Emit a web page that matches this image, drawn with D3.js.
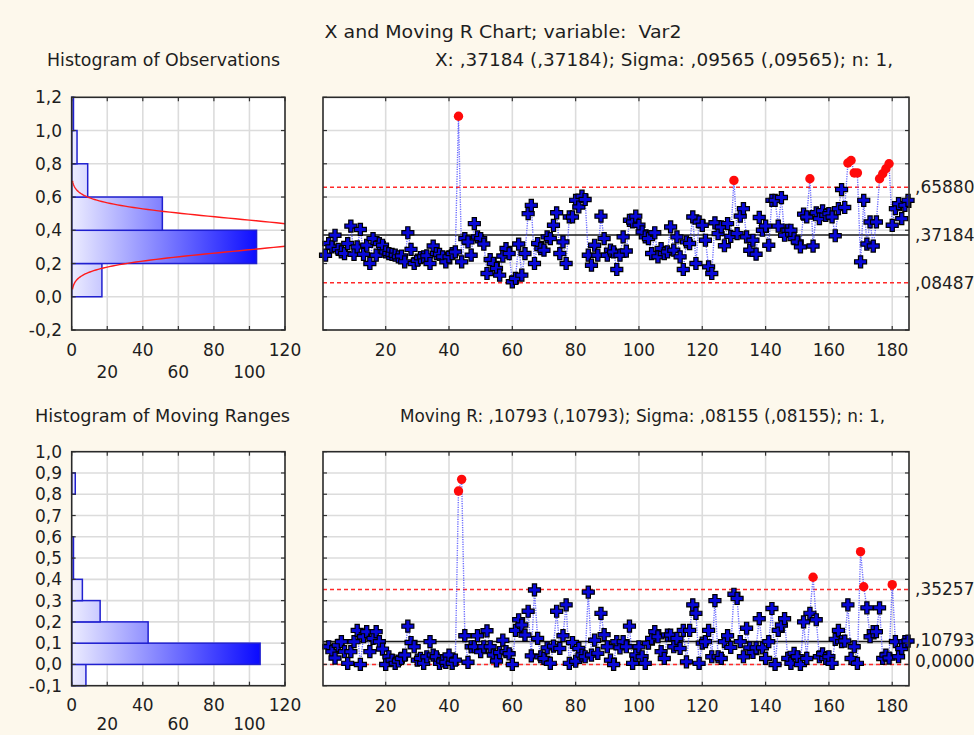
<!DOCTYPE html>
<html><head><meta charset="utf-8">
<script src="https://cdn.jsdelivr.net/npm/d3@7"></script>
<style>
body{margin:0;background:#fdf8ec;}
text{font-family:"DejaVu Sans","Liberation Sans",Arial,sans-serif;fill:#1e1e1e;}
</style>
</head><body>
<svg id="c" width="974" height="735"></svg>
<script>
// ---------------- DATA ----------------
const obsValues = [
0.25,0.32,0.30,0.37,0.285,0.27,0.26,0.32,0.425,0.255,
0.30,0.405,0.255,0.31,0.20,0.35,0.25,0.32,0.31,0.27,
0.26,0.255,0.25,0.24,0.245,0.21,0.385,0.285,0.20,0.22,
0.235,0.24,0.246,0.20,0.305,0.26,0.255,0.24,0.21,0.24,
0.26,0.27,1.086,0.21,0.35,0.33,0.25,0.44,0.36,0.35,
0.317,0.14,0.224,0.20,0.17,0.13,0.245,0.29,0.26,0.09,
0.11,0.317,0.13,0.26,0.50,0.55,0.20,0.32,0.29,0.28,
0.36,0.35,0.43,0.505,0.26,0.33,0.20,0.48,0.48,0.58,
0.54,0.605,0.585,0.25,0.19,0.31,0.25,0.485,0.35,0.25,
0.28,0.27,0.164,0.25,0.36,0.275,0.46,0.45,0.485,0.43,
0.39,0.36,0.35,0.26,0.385,0.24,0.29,0.26,0.27,0.42,
0.28,0.36,0.24,0.164,0.33,0.32,0.48,0.20,0.45,0.43,
0.34,0.18,0.14,0.445,0.38,0.42,0.307,0.44,0.363,0.70,
0.38,0.485,0.53,0.36,0.28,0.34,0.256,0.477,0.40,0.425,
0.31,0.58,0.58,0.425,0.597,0.37,0.40,0.40,0.35,0.33,
0.30,0.497,0.48,0.71,0.305,0.505,0.47,0.517,0.49,0.50,
0.48,0.367,0.53,0.645,0.537,0.805,0.82,0.745,0.745,0.21,
0.58,0.317,0.45,0.305,0.45,0.71,0.74,0.77,0.80,0.43,
0.53,0.56,0.47,0.55,0.58
];
const obsStart = 1;

const mrValues = [
0.083,0.06,0.03,0.09,0.107,0.06,0.005,0.06,0.107,               // 2-10
0.16,0.0,0.13,0.154,0.06,0.122,0.154,0.107,0.072,0.0,            // 11-20
0.036,0.02,0.005,0.016,0.028,0.044,0.18,0.103,0.083,0.02,        // 21-30
0.028,0.005,0.036,0.107,0.044,0.036,0.005,0.016,0.01,0.044,      // 31-40
0.005,0.02,0.815,0.87,0.135,0.01,0.083,0.083,0.135,0.06,         // 41-50
0.083,0.158,0.083,0.044,0.016,0.056,0.114,0.06,0.05,0.0,         // 51-60
0.16,0.21,0.185,0.138,0.25,0.04,0.35,0.122,0.036,0.028,          // 61-70
0.078,0.005,0.086,0.25,0.075,0.135,0.28,0.005,0.103,0.015,       // 71-80
0.075,0.044,0.036,0.34,0.044,0.114,0.052,0.24,0.14,0.083,        // 81-90
0.02,0.0,0.107,0.078,0.107,0.083,0.18,0.005,0.044,0.083,         // 91-100
0.036,0.005,0.1,0.122,0.154,0.13,0.06,0.028,0.138,0.138,         // 101-110
0.083,0.122,0.075,0.16,0.012,0.16,0.28,0.24,0.005,0.1,           // 111-120
0.107,0.16,0.036,0.30,0.036,0.028,0.107,0.135,0.08,0.33,         // 121-130
0.31,0.107,0.036,0.17,0.078,0.056,0.078,0.215,0.078,0.028,       // 131-140
0.107,0.263,0.0,0.16,0.185,0.215,0.028,0.005,0.052,0.036,        // 141-150
0.0,0.2,0.028,0.24,0.41,0.21,0.036,0.05,0.028,0.036,             // 151-160
0.005,0.118,0.16,0.107,0.11,0.28,0.028,0.083,0.005,0.53,         // 161-170
0.365,0.266,0.13,0.154,0.154,0.266,0.028,0.044,0.03,0.375,       // 171-180
0.107,0.036,0.075,0.107,0.11                                     // 181-185
];
const mrStart = 2;

// control limits (from the chart labels)
const obsLimits = {center:0.37184, ucl:0.65880, lcl:0.08487};
const mrLimits  = {center:0.10793, ucl:0.35257, lcl:0.0};
const obsSigma = 0.09565;
const obsLimitLabels = [",65880", ",37184", ",08487"];
const mrLimitLabels  = [",35257", ",10793", "0,0000"];

// histogram counts
const obsBinStarts = [0.0, 0.2, 0.4, 0.6, 0.8, 1.0];
const obsBinCounts = [17, 104, 51, 9, 3, 1];
const obsBinWidth = 0.2;
const mrBinStarts = [-0.1, 0.0, 0.1, 0.2, 0.3, 0.4, 0.5, 0.6, 0.7, 0.8];
const mrBinCounts = [8, 106, 43, 16, 6, 1, 1, 0, 0, 2];
const mrBinWidth = 0.1;

// ticks
const obsYTicks = [-0.2, 0.0, 0.2, 0.4, 0.6, 0.8, 1.0, 1.2];
const mrYTicks  = [-0.1, 0.0, 0.1, 0.2, 0.3, 0.4, 0.5, 0.6, 0.7, 0.8, 0.9, 1.0];
const histXTicks = [0, 20, 40, 60, 80, 100, 120];
const mainXTicks = [20, 40, 60, 80, 100, 120, 140, 160, 180];

const titles = {
  main: "X and Moving R Chart; variable:\u00a0 Var2",
  obsHist: "Histogram of Observations",
  obsInfo: "X: ,37184 (,37184); Sigma: ,09565 (,09565); n: 1,",
  mrHist: "Histogram of Moving Ranges",
  mrInfo: "Moving R: ,10793 (,10793); Sigma: ,08155 (,08155); n: 1,"
};

// ---------------- DRAW ----------------
const svg = d3.select("#c");
const loc = d3.formatLocale({decimal:",", thousands:".", grouping:[3], currency:["",""], minus:"-"});
const fmt1 = loc.format(".1f");

const yTop = d3.scaleLinear().domain([-0.2, 1.2]).range([330, 97.3]);
const yBot = d3.scaleLinear().domain([-0.1, 1.0]).range([685.7, 451.7]);
const xHist = d3.scaleLinear().domain([0, 120]).range([71.7, 285]);
const xMain = d3.scaleLinear().domain([0.2, 185.3]).range([323, 909]);

const defs = svg.append("defs");
const grad = defs.append("linearGradient").attr("id","barGrad")
  .attr("gradientUnits","userSpaceOnUse")
  .attr("x1", xHist(0)).attr("x2", xHist(106)).attr("y1",0).attr("y2",0);
grad.append("stop").attr("offset","0").attr("stop-color","#ececff");
grad.append("stop").attr("offset","1").attr("stop-color","#0a0aff");

svg.append("rect").attr("width",974).attr("height",735).attr("fill","#fdf8ec");

// Titles (widths fitted to the reference)
function title(x, y, txt, len) {
  svg.append("text").attr("x",x).attr("y",y).attr("text-anchor","middle").attr("font-size",17)
    .attr("textLength",len).attr("lengthAdjust","spacingAndGlyphs").text(txt);
}
title(503, 38, titles.main, 357);
title(163.5, 66, titles.obsHist, 233);
title(664, 66, titles.obsInfo, 458);
title(162.5, 422, titles.mrHist, 255);
title(642.5, 422, titles.mrInfo, 485);

function frameAndGrid(g, x, y, gridX, gridY) {
  const [x0, x1] = x.range(), [y0, y1] = y.range();
  g.append("rect").attr("x",x0).attr("y",y1).attr("width",x1-x0).attr("height",y0-y1).attr("fill","#fff");
  g.selectAll(".gx").data(gridX).join("line")
    .attr("x1",d=>x(d)).attr("x2",d=>x(d)).attr("y1",y1).attr("y2",y0)
    .attr("stroke","#dcdcdc").attr("stroke-width",1.6);
  g.selectAll(".gy").data(gridY).join("line")
    .attr("x1",x0).attr("x2",x1).attr("y1",d=>y(d)).attr("y2",d=>y(d))
    .attr("stroke","#dcdcdc").attr("stroke-width",1.6);
}
function frameTicks(g, x, y, xTickVals, yTickVals) {
  const [x0, x1] = x.range(), [y0, y1] = y.range();
  const t = 4;
  const tk = g.append("g").attr("stroke","#333").attr("stroke-width",1.2);
  xTickVals.forEach(v => {
    tk.append("line").attr("x1",x(v)).attr("x2",x(v)).attr("y1",y0).attr("y2",y0-t);
    tk.append("line").attr("x1",x(v)).attr("x2",x(v)).attr("y1",y1).attr("y2",y1+t);
  });
  yTickVals.forEach(v => {
    tk.append("line").attr("x1",x0).attr("x2",x0+t).attr("y1",y(v)).attr("y2",y(v));
    tk.append("line").attr("x1",x1).attr("x2",x1-t).attr("y1",y(v)).attr("y2",y(v));
  });
  g.append("rect").attr("x",x0).attr("y",y1).attr("width",x1-x0).attr("height",y0-y1)
    .attr("fill","none").attr("stroke","#2a2a2a").attr("stroke-width",1.6);
}

function histogram(g, y, starts, counts, bw, yTickVals, labelRow1, labelRow2, clipId, curve) {
  const inner = yTickVals.filter((v,i)=>i>0 && i<yTickVals.length-1);
  frameAndGrid(g, xHist, y, histXTicks.slice(1,-1), inner);
  g.selectAll(".bar").data(starts.map((s,i)=>({s, c:counts[i]})).filter(d=>d.c>0)).join("rect")
    .attr("x", xHist(0)).attr("y", d=>y(d.s+bw)).attr("width", d=>xHist(d.c)-xHist(0))
    .attr("height", d=>y(d.s)-y(d.s+bw))
    .attr("fill","url(#barGrad)").attr("stroke","#2020d0").attr("stroke-width",1.5);
  if (curve) {
    const [x0,x1]=xHist.range(), [y0,y1]=y.range();
    defs.append("clipPath").attr("id",clipId).append("rect").attr("x",x0).attr("y",y1).attr("width",x1-x0).attr("height",y0-y1);
    g.append("path").attr("clip-path",`url(#${clipId})`).datum(curve)
      .attr("d", d3.line().x(d=>xHist(d.c)).y(d=>y(d.v)))
      .attr("fill","none").attr("stroke","#ff1a1a").attr("stroke-width",1.4);
  }
  frameTicks(g, xHist, y, histXTicks, yTickVals);
  g.selectAll(".yl").data(yTickVals).join("text")
    .attr("x", 62).attr("y", d=>y(d)+6).attr("text-anchor","end").attr("font-size",17).text(d=>fmt1(d));
  g.selectAll(".xl").data(histXTicks).join("text")
    .attr("x", d=>xHist(d)).attr("y",(d,i)=> i%2===0 ? labelRow1 : labelRow2)
    .attr("text-anchor","middle").attr("font-size",17).text(d=>d);
}

const plusPath = "M-2.1,-6h4.2v3.9h3.9v4.2h-3.9v3.9h-4.2v-3.9h-3.9v-4.2h3.9z";

function controlChart(g, y, values, start, lim, yTickVals, limitLabels, xLabelY, labelYs) {
  const inner = yTickVals.filter((v,i)=>i>0 && i<yTickVals.length-1);
  frameAndGrid(g, xMain, y, mainXTicks, inner);
  const [x0,x1] = xMain.range();
  g.append("line").attr("x1",x0).attr("x2",x1).attr("y1",y(lim.center)).attr("y2",y(lim.center))
    .attr("stroke","#1a1a1a").attr("stroke-width",1.5);
  [lim.ucl, lim.lcl].forEach(v=>{
    g.append("line").attr("x1",x0).attr("x2",x1).attr("y1",y(v)).attr("y2",y(v))
      .attr("stroke","#ff2a2a").attr("stroke-width",1.5).attr("stroke-dasharray","4,3");
  });
  const pts = values.map((v,i)=>({i:i+start, v, out: v>lim.ucl || v<lim.lcl}));
  g.append("path").datum(pts)
    .attr("d", d3.line().x(d=>xMain(d.i)).y(d=>y(d.v)))
    .attr("fill","none").attr("stroke","#5050ff").attr("stroke-width",1.4)
    .attr("stroke-dasharray","1.2,1.2").attr("opacity",0.85);
  g.selectAll(".pt").data(pts.filter(d=>!d.out)).join("path")
    .attr("d", plusPath).attr("transform", d=>`translate(${xMain(d.i)},${y(d.v)})`)
    .attr("fill","#0808d8").attr("stroke","#000").attr("stroke-width",1.2);
  g.selectAll(".out").data(pts.filter(d=>d.out)).join("circle")
    .attr("cx", d=>xMain(d.i)).attr("cy", d=>y(d.v)).attr("r",4.7).attr("fill","#ff0a0a");
  frameTicks(g, xMain, y, mainXTicks, yTickVals);
  g.selectAll(".xl").data(mainXTicks).join("text")
    .attr("x", d=>xMain(d)).attr("y", xLabelY).attr("text-anchor","middle").attr("font-size",17).text(d=>d);
  g.selectAll(".ll").data(limitLabels).join("text")
    .attr("x", 915).attr("y", (d,i)=>labelYs[i]+6).attr("font-size",17).text(d=>d);
}

// normal curve fitted to the observations, scaled to histogram counts
const N = obsValues.length;
const curvePts = d3.range(0.045, 0.7001, 0.004).map(v => ({
  v, c: N*obsBinWidth*Math.exp(-0.5*Math.pow((v-obsLimits.center)/obsSigma,2))/(obsSigma*Math.sqrt(2*Math.PI))
}));

histogram(svg.append("g"), yTop, obsBinStarts, obsBinCounts, obsBinWidth, obsYTicks, 356, 378, "clipTop", curvePts);
histogram(svg.append("g"), yBot, mrBinStarts, mrBinCounts, mrBinWidth, mrYTicks, 711, 730, "clipBot", null);

controlChart(svg.append("g"), yTop, obsValues, obsStart, obsLimits, obsYTicks, obsLimitLabels, 356,
  [yTop(obsLimits.ucl), yTop(obsLimits.center), yTop(obsLimits.lcl)]);
controlChart(svg.append("g"), yBot, mrValues, mrStart, mrLimits, mrYTicks, mrLimitLabels, 712,
  [yBot(mrLimits.ucl), yBot(mrLimits.center)-1, yBot(mrLimits.lcl)-3]);
</script>
</body></html>
